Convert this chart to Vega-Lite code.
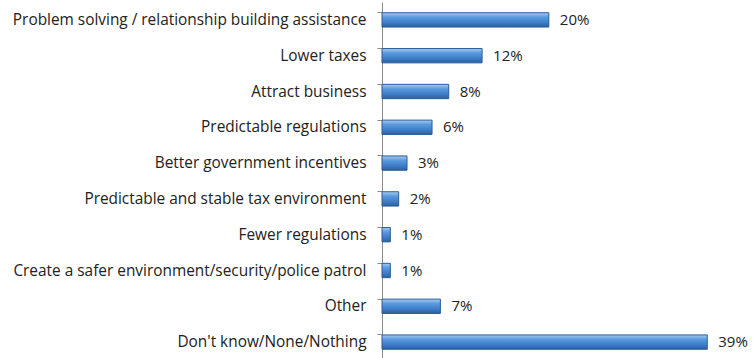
{
  "$schema": "https://vega.github.io/schema/vega-lite/v6.json",
  "autosize": "none",
  "padding": {"left": 382, "top": 2, "right": 5, "bottom": 0},
  "width": 367,
  "height": 358,
  "background": "white",
  "config": {"view": {"stroke": null}, "font": "Open Sans"},
  "data": {"values": [
    {"category": "Problem solving / relationship building assistance", "share": 0.20},
    {"category": "Lower taxes", "share": 0.12},
    {"category": "Attract business", "share": 0.08},
    {"category": "Predictable regulations", "share": 0.06},
    {"category": "Better government incentives", "share": 0.03},
    {"category": "Predictable and stable tax environment", "share": 0.02},
    {"category": "Fewer regulations", "share": 0.01},
    {"category": "Create a safer environment/security/police patrol", "share": 0.01},
    {"category": "Other", "share": 0.07},
    {"category": "Don't know/None/Nothing", "share": 0.39}
  ]},
  "encoding": {
    "y": {"field": "category", "type": "nominal", "sort": null,
      "scale": {"paddingInner": 0.6, "paddingOuter": 0.3},
      "axis": {"title": null, "domainColor": "#8c8c8c", "tickColor": "#8c8c8c", "tickSize": 5, "bandPosition": 0,
        "labelFontSize": 15.4, "labelColor": "#222", "labelPadding": 11, "labelLimit": 400}},
    "x": {"field": "share", "type": "quantitative", "scale": {"domain": [0, 0.44]}, "axis": null}
  },
  "layer": [
    {"mark": {"type": "bar", "stroke": "#2b5d98", "strokeWidth": 1,
      "color": {"gradient": "linear", "x1": 0, "y1": 0, "x2": 0, "y2": 1,
        "stops": [{"offset": 0, "color": "#a9cbee"}, {"offset": 0.3, "color": "#5b9be0"}, {"offset": 0.7, "color": "#3d7cc6"}, {"offset": 1, "color": "#2b5f9f"}]}}},
    {"mark": {"type": "text", "align": "left", "dx": 11, "fontSize": 15, "color": "#222"},
      "encoding": {"text": {"field": "share", "type": "quantitative", "format": ".0%"}}}
  ]
}
